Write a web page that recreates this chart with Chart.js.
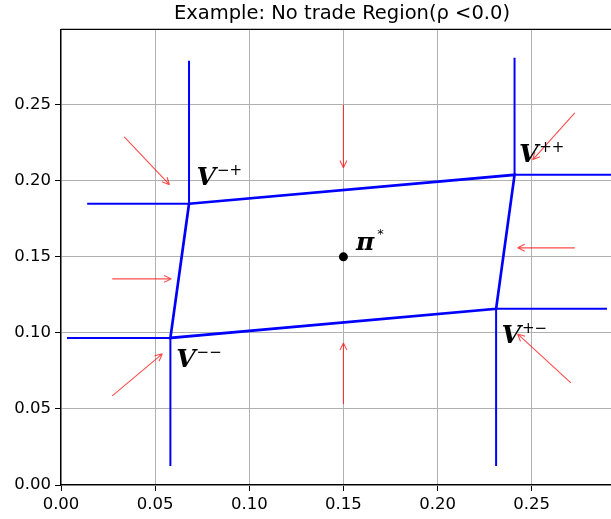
<!DOCTYPE html>
<html>
<head>
<meta charset="utf-8">
<script src="https://cdn.jsdelivr.net/npm/chart.js@4.4.1/dist/chart.umd.min.js"></script>
<style>
  html, body { margin: 0; padding: 0; background: #fff; overflow: hidden; }
  #wrap { width: 640px; height: 519px; }
</style>
</head>
<body>
<div id="wrap"><canvas id="region" width="640" height="519"></canvas></div>
<script>
const titleText = 'Example: No trade Region(ρ <0.0)';
const xTicks = [0, 0.05, 0.1, 0.15, 0.2, 0.25];
const yTicks = [0, 0.05, 0.1, 0.15, 0.2, 0.25];

// corners of the no-trade region, in order V-+, V++, V+-, V--
const cornerX = [0.068, 0.2409, 0.2311, 0.0581];
const cornerY = [0.1849, 0.2039, 0.1158, 0.0967];

// two boundary rays leave each corner
const rayCorner = [0, 0, 1, 1, 2, 2, 3, 3];
const rayEndX = [0.068, 0.0139, 0.2409, 0.30, 0.29, 0.2311, 0.0032, 0.0581];
const rayEndY = [0.2789, 0.1849, 0.2809, 0.2039, 0.1158, 0.0125, 0.0967, 0.0125];

// optimal point
const piStarX = 0.15;
const piStarY = 0.15;

// red drift arrows (tail -> head)
const arrowTailX = [0.0336, 0.15, 0.2729, 0.0272, 0.2729, 0.0272, 0.15, 0.2708];
const arrowTailY = [0.2289, 0.25, 0.2447, 0.1355, 0.1559, 0.0586, 0.0533, 0.0671];
const arrowHeadX = [0.0576, 0.15, 0.2505, 0.0586, 0.2425, 0.0538, 0.15, 0.2425];
const arrowHeadY = [0.1974, 0.2086, 0.2138, 0.1355, 0.1559, 0.0862, 0.0934, 0.0993];

// math labels: base glyph, superscript, anchor (left, baseline)
const labelBase = ['V', 'V', 'V', 'V', 'π'];
const labelSup = ['−+', '++', '+−', '−−', '*'];
const labelX = [0.072, 0.2432, 0.234, 0.0612, 0.1567];
const labelY = [0.1974, 0.2125, 0.0934, 0.0776, 0.1546];

const xMax = 0.2985;
const yMax = 0.2995;

const quad = cornerX.map((cx, i) => ({ x: cx, y: cornerY[i] }));
quad.push({ ...quad[0] });

const datasets = [{
  data: quad, showLine: true, borderColor: '#0000ff', borderWidth: 2.7,
  pointRadius: 0, fill: false
}];
rayCorner.forEach((c, i) => {
  datasets.push({
    data: [{ x: cornerX[c], y: cornerY[c] }, { x: rayEndX[i], y: rayEndY[i] }],
    showLine: true, borderColor: '#0000ff', borderWidth: 2, pointRadius: 0, fill: false
  });
});
datasets.push({
  data: [{ x: piStarX, y: piStarY }], showLine: false,
  pointRadius: 4.5, pointBackgroundColor: '#000', pointBorderColor: '#000', pointBorderWidth: 0
});

const extras = {
  id: 'extras',
  afterDatasetsDraw(chart) {
    const { ctx, chartArea, scales: { x, y } } = chart;
    ctx.save();

    // top spine
    ctx.strokeStyle = '#000';
    ctx.lineWidth = 1.3;
    ctx.beginPath();
    ctx.moveTo(chartArea.left, chartArea.top);
    ctx.lineTo(chartArea.right, chartArea.top);
    ctx.stroke();

    // arrows
    ctx.strokeStyle = 'rgba(255,0,0,0.7)';
    ctx.lineWidth = 1.1;
    arrowTailX.forEach((tx0, i) => {
      const tx = x.getPixelForValue(tx0), ty = y.getPixelForValue(arrowTailY[i]);
      const hx = x.getPixelForValue(arrowHeadX[i]), hy = y.getPixelForValue(arrowHeadY[i]);
      const ang = Math.atan2(hy - ty, hx - tx);
      ctx.beginPath();
      ctx.moveTo(tx, ty);
      ctx.lineTo(hx, hy);
      for (const s of [-1, 1]) {
        ctx.moveTo(hx, hy);
        ctx.lineTo(hx - 8 * Math.cos(ang + s * 0.45), hy - 8 * Math.sin(ang + s * 0.45));
      }
      ctx.stroke();
    });

    // labels
    ctx.fillStyle = '#000';
    ctx.textBaseline = 'alphabetic';
    ctx.textAlign = 'left';
    labelBase.forEach((b, i) => {
      const px = x.getPixelForValue(labelX[i]), py = y.getPixelForValue(labelY[i]);
      ctx.font = 'bold italic 25px "DejaVu Serif"';
      ctx.fillText(b, px, py);
      const w = ctx.measureText(b).width;
      const star = labelSup[i] === '*';
      ctx.font = (star ? 13 : 15) + 'px "DejaVu Sans"';
      ctx.fillText(labelSup[i], px + w + (star ? 3 : 1), py - (star ? 12 : 10));
    });
    ctx.restore();
  }
};

const tickFont = { family: 'DejaVu Sans', size: 16.5 };

new Chart(document.getElementById('region'), {
  type: 'scatter',
  data: { datasets },
  options: {
    responsive: false,
    animation: false,
    devicePixelRatio: 1,
    layout: { padding: { left: 0, right: 17, top: 0, bottom: 0 } },
    plugins: {
      legend: { display: false },
      tooltip: { enabled: false },
      title: {
        display: true, text: titleText, fullSize: false, color: '#000',
        font: { family: 'DejaVu Sans', size: 19.5, weight: 'normal' },
        padding: { top: 2, bottom: 4 }
      }
    },
    scales: {
      x: {
        type: 'linear', min: 0, max: xMax,
        afterBuildTicks: (s) => { s.ticks = xTicks.map((v) => ({ value: v })); },
        afterFit: (s) => { s.height = 34; },
        grid: { color: '#b0b0b0', lineWidth: 1, tickColor: '#000', tickLength: 6 },
        border: { color: '#000', width: 1.3 },
        ticks: { font: tickFont, color: '#000', padding: 4, autoSkip: false, maxRotation: 0,
                 callback: (v) => v.toFixed(2) }
      },
      y: {
        type: 'linear', min: 0, max: yMax,
        afterBuildTicks: (s) => { s.ticks = yTicks.map((v) => ({ value: v })); },
        afterFit: (s) => { s.width = 61; },
        grid: { color: '#b0b0b0', lineWidth: 1, tickColor: '#000', tickLength: 6 },
        border: { color: '#000', width: 1.3 },
        ticks: { font: tickFont, color: '#000', padding: 4, autoSkip: false,
                 callback: (v) => v.toFixed(2) }
      }
    }
  },
  plugins: [extras]
});
</script>
</body>
</html>
